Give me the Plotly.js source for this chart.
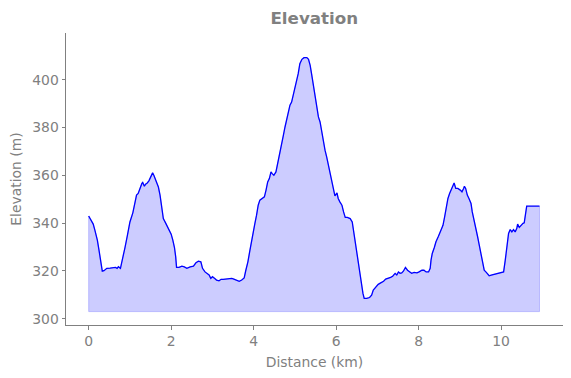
<!DOCTYPE html>
<html>
<head>
<meta charset="utf-8">
<script src="https://cdn.plot.ly/plotly-3.0.1.min.js"></script>
<style>html,body{margin:0;padding:0;background:#fff;}#chart{width:571px;height:378px;}</style>
</head>
<body>
<div id="chart"></div>
<script>
const distanceKm = [0.00,0.02,0.07,0.11,0.15,0.21,0.25,0.29,0.33,0.37,0.44,0.52,0.60,0.65,0.69,0.72,0.77,0.82,0.88,0.94,1.00,1.07,1.12,1.16,1.20,1.24,1.29,1.31,1.35,1.38,1.42,1.46,1.50,1.55,1.58,1.63,1.69,1.73,1.77,1.81,1.87,1.93,2.00,2.04,2.08,2.11,2.13,2.19,2.26,2.32,2.38,2.46,2.54,2.60,2.66,2.72,2.76,2.82,2.88,2.92,2.96,3.00,3.05,3.10,3.16,3.21,3.26,3.32,3.39,3.47,3.52,3.59,3.65,3.71,3.77,3.81,3.86,3.91,3.95,3.99,4.03,4.07,4.11,4.15,4.21,4.26,4.30,4.34,4.38,4.42,4.45,4.49,4.54,4.57,4.62,4.64,4.68,4.72,4.76,4.80,4.84,4.88,4.92,4.96,5.00,5.04,5.08,5.12,5.17,5.22,5.29,5.33,5.37,5.41,5.45,5.49,5.53,5.57,5.61,5.65,5.69,5.73,5.77,5.81,5.85,5.89,5.93,5.97,6.02,6.05,6.09,6.14,6.18,6.22,6.27,6.34,6.39,6.43,6.48,6.52,6.56,6.60,6.65,6.68,6.74,6.81,6.86,6.90,6.97,7.02,7.08,7.15,7.20,7.27,7.32,7.37,7.43,7.47,7.51,7.55,7.59,7.63,7.68,7.73,7.78,7.83,7.89,7.96,8.01,8.08,8.13,8.18,8.24,8.28,8.30,8.33,8.38,8.42,8.48,8.54,8.59,8.63,8.67,8.71,8.75,8.79,8.83,8.86,8.90,8.95,9.01,9.05,9.09,9.11,9.14,9.18,9.22,9.27,9.30,9.35,9.39,9.43,9.47,9.51,9.55,9.59,9.63,9.67,9.71,9.76,9.81,9.87,9.93,10.00,10.06,10.10,10.14,10.18,10.22,10.26,10.30,10.34,10.38,10.40,10.44,10.48,10.53,10.56,10.58,10.62,10.70,10.82,10.93];
const elevationM = [343.0,342.4,340.5,339.6,337.1,332.9,328.7,323.8,319.9,320.1,321.1,321.2,321.2,321.5,321.1,321.8,321.1,324.5,329.8,335.0,340.5,344.3,348.9,351.7,352.4,354.5,356.6,357.0,355.4,356.3,356.8,357.7,359.1,361.0,360.0,357.9,355.1,351.7,347.5,341.9,339.9,337.8,335.4,332.9,329.8,325.9,321.5,321.5,322.0,321.7,321.1,321.7,322.0,323.4,324.1,323.8,321.1,319.6,319.0,318.3,316.9,317.6,316.9,316.2,315.9,316.5,316.5,316.6,316.7,316.9,316.6,316.2,315.7,316.2,317.1,320.3,323.8,328.7,332.9,337.1,339.9,343.3,347.5,349.6,350.5,351.0,353.8,357.2,358.6,361.4,360.7,360.0,361.4,364.2,367.7,370.5,373.3,376.7,380.2,383.7,387.2,389.3,390.6,393.4,396.9,399.7,402.5,406.7,408.5,409.2,409.2,408.5,406.0,401.8,397.6,393.4,389.3,384.4,382.3,378.1,373.9,370.5,367.7,364.2,360.7,357.2,354.5,351.4,352.6,350.3,348.9,347.5,344.7,342.4,342.4,341.9,340.5,335.7,330.1,324.5,319.6,314.8,310.6,308.5,308.5,308.9,309.9,312.0,313.4,314.4,315.0,315.7,316.6,316.9,317.3,317.8,319.0,318.3,319.6,319.0,319.2,319.9,321.5,320.3,319.6,319.0,319.4,319.2,319.6,320.3,320.3,319.6,319.6,321.1,324.5,327.3,329.8,332.2,334.5,337.1,339.1,342.6,346.8,350.3,352.4,353.8,355.8,356.8,354.5,354.5,353.8,353.1,354.5,355.4,354.5,351.7,350.3,348.2,344.7,341.2,337.8,334.3,330.8,327.3,323.8,320.3,319.6,319.0,318.0,318.3,318.5,319.0,319.2,319.4,319.6,324.5,330.8,335.7,337.3,336.3,337.3,336.3,337.8,339.6,338.2,339.1,339.9,340.1,342.6,347.1,347.1,347.1,347.1];
const fillBase = 303;
const xTicks = [0, 2, 4, 6, 8, 10];
const yTicks = [300, 320, 340, 360, 380, 400];

const n = distanceKm.length;
const fillX = distanceKm.concat([distanceKm[n-1], distanceKm[0], distanceKm[0]]);
const fillY = elevationM.concat([fillBase, fillBase, elevationM[0]]);

const gray = '#808080';
const font = 'DejaVu Sans, sans-serif';

const traces = [
  {x: fillX, y: fillY, type: 'scatter', mode: 'lines', fill: 'toself',
   fillcolor: 'rgba(0,0,255,0.2)', line: {color: 'rgba(0,0,255,0.2)', width: 1},
   hoverinfo: 'skip', showlegend: false},
  {x: distanceKm, y: elevationM, type: 'scatter', mode: 'lines',
   line: {color: '#0000ff', width: 1.3}, showlegend: false}
];

const axisCommon = {
  showline: true, linecolor: gray, linewidth: 1, mirror: false,
  showgrid: false, zeroline: false, ticks: 'outside', ticklen: 3.5,
  tickwidth: 1, tickcolor: gray, tickfont: {family: font, size: 13.9, color: gray}
};

const layout = {
  width: 571, height: 378,
  margin: {l: 66, r: 8.3, t: 33, b: 53, pad: 0},
  paper_bgcolor: '#fff', plot_bgcolor: '#fff',
  font: {family: font, color: gray},
  title: {text: '<b>Elevation</b>', font: {family: font, size: 16.7, color: gray},
          x: 0.5504, xanchor: 'center', y: 0.952, yanchor: 'middle'},
  xaxis: Object.assign({}, axisCommon, {
    range: [-0.55, 11.5], tickvals: xTicks, ticktext: xTicks.map(String),
    title: {text: 'Distance (km)', font: {family: font, size: 13.9, color: gray}, standoff: 9}
  }),
  yaxis: Object.assign({}, axisCommon, {
    range: [297.4, 419.5], tickvals: yTicks, ticktext: yTicks.map(String),
    title: {text: 'Elevation (m)', font: {family: font, size: 13.9, color: gray}, standoff: 7}
  })
};

Plotly.newPlot('chart', traces, layout, {displayModeBar: false, staticPlot: true});
</script>
</body>
</html>
